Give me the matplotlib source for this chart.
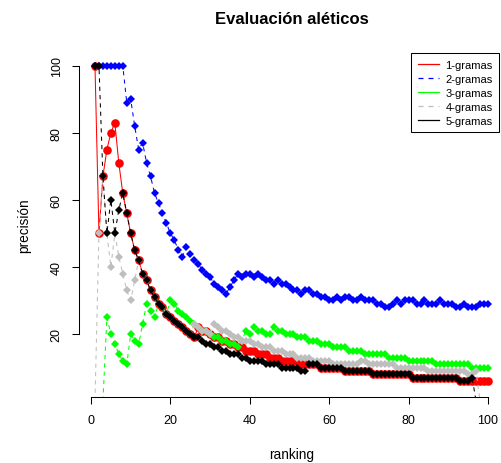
import matplotlib
matplotlib.use("Agg")
import matplotlib.pyplot as plt
from matplotlib.lines import Line2D

plt.rcParams["font.family"] = ["Liberation Sans", "DejaVu Sans"]

# precision (%) at each ranking position
ranking = list(range(1, 101))

unigramas = [100, 50, 67, 75, 80, 83, 71, 62, 56, 50,
             45, 42, 38, 36, 33, 31, 29, 28, 26, 25,
             24, 23, 22, 21, 20, 19, 22, 21, 21, 20,
             19, 19, 18, 18, 17, 17, 16, 16, 15, 15,
             15, 14, 14, 14, 13, 13, 13, 12, 12, 12,
             12, 12, 11, 11, 11, 11, 11, 10, 10, 10,
             10, 10, 10, 9, 9, 9, 9, 9, 9, 9,
             8, 8, 8, 8, 8, 8, 8, 8, 8, 8,
             7, 7, 7, 7, 7, 7, 7, 7, 7, 7,
             7, 7, 6, 6, 6, 6, 6, 6, 6, 6]

bigramas = [100, 100, 100, 100, 100, 100, 100, 100, 89, 90,
            82, 75, 77, 71, 67, 62, 59, 56, 53, 50,
            48, 45, 43, 46, 44, 42, 41, 39, 38, 37,
            35, 34, 33, 32, 34, 36, 38, 37, 38, 38,
            37, 38, 37, 36, 36, 35, 36, 35, 35, 34,
            33, 33, 32, 33, 33, 32, 32, 31, 31, 30,
            30, 31, 30, 31, 31, 30, 30, 31, 30, 30,
            30, 29, 29, 28, 28, 29, 30, 29, 30, 30,
            30, 29, 29, 30, 29, 29, 29, 30, 29, 29,
            29, 28, 28, 29, 28, 28, 28, 29, 29, 29]

trigramas = [0, 0, 0, 25, 20, 17, 14, 12, 11, 20,
             18, 17, 23, 29, 27, 25, 29, 28, 26, 30,
             29, 27, 26, 25, 24, 23, 22, 21, 21, 20,
             19, 19, 18, 18, 17, 17, 16, 18, 21, 20,
             22, 21, 21, 20, 20, 22, 21, 21, 20, 20,
             20, 19, 19, 19, 18, 18, 18, 17, 17, 17,
             16, 16, 16, 16, 15, 15, 15, 15, 14, 14,
             14, 14, 14, 14, 13, 13, 13, 13, 13, 12,
             12, 12, 12, 12, 12, 12, 11, 11, 11, 11,
             11, 11, 11, 11, 11, 10, 10, 10, 10, 10]

tetragramas = [0, 50, 67, 50, 40, 50, 43, 38, 33, 30,
               36, 42, 38, 36, 33, 31, 29, 28, 26, 25,
               24, 23, 22, 21, 20, 23, 22, 21, 21, 20,
               23, 22, 21, 21, 20, 19, 19, 18, 18, 18,
               17, 17, 16, 16, 16, 15, 15, 15, 14, 14,
               14, 13, 13, 13, 13, 12, 12, 12, 12, 12,
               11, 11, 11, 11, 11, 11, 11, 12, 12, 11,
               11, 11, 11, 11, 11, 11, 10, 10, 10, 10,
               10, 10, 10, 10, 9, 9, 9, 9, 9, 9,
               9, 9, 9, 9, 8, 8, 9, 0, 0, 0]

pentagramas = [100, 100, 67, 50, 60, 50, 57, 62, 56, 50,
               45, 42, 38, 36, 33, 31, 29, 28, 26, 25,
               24, 23, 22, 21, 20, 19, 19, 18, 17, 17,
               16, 16, 15, 15, 14, 14, 14, 13, 13, 12,
               12, 12, 12, 11, 11, 11, 11, 10, 10, 10,
               10, 10, 9, 9, 11, 11, 11, 10, 10, 10,
               10, 10, 10, 9, 9, 9, 9, 9, 9, 9,
               8, 8, 8, 8, 8, 8, 8, 8, 8, 8,
               7, 7, 7, 7, 7, 7, 7, 7, 7, 7,
               7, 7, 6, 6, 6, 7, 0, 0, 0, 0]

labels = ["1-gramas", "2-gramas", "3-gramas", "4-gramas", "5-gramas"]
values = [unigramas, bigramas, trigramas, tetragramas, pentagramas]
colors = ["#FF0000", "#0000FF", "#00FF00", "#BEBEBE", "#000000"]
markers = ["o", "D", "D", "D", "D"]
msizes = [6.2, 3.9, 3.9, 3.9, 3.9]
plot_ls = ["-", (0, (4, 4)), (0, (4, 4)), (0, (4, 4)), (0, (4, 4))]
legend_ls = ["-", (0, (4, 4)), "-", (0, (4, 4)), "-"]

fig = plt.figure(figsize=(5.02, 4.64), dpi=100)
ax = fig.add_axes([0.1579, 0.142, 0.8455, 0.7418])

for vals, c, m, ms, ls in zip(values, colors, markers, msizes, plot_ls):
    ax.plot(ranking, vals, color=c, linestyle=ls, linewidth=0.75,
            marker=m, markersize=ms, markeredgewidth=0)

ax.set_xlim(-2.96, 103.96)
ax.set_ylim(1.2, 103.8)
ax.set_xticks([0, 20, 40, 60, 80, 100])
ax.set_yticks([20, 40, 60, 80, 100])
for side in ["top", "right"]:
    ax.spines[side].set_visible(False)
ax.spines["left"].set_bounds(20, 100)
ax.spines["bottom"].set_bounds(0, 100)
for side in ["left", "bottom"]:
    ax.spines[side].set_linewidth(0.75)
ax.tick_params(length=5, width=0.75, labelsize=9, pad=7)
plt.setp(ax.get_yticklabels(), rotation=90, va="center")

handles = [Line2D([], [], color=c, linestyle=ls, linewidth=0.9)
           for c, ls in zip(colors, legend_ls)]
leg = ax.legend(handles, labels, loc="upper right",
                bbox_to_anchor=(499.3 / 502, 1 - 54 / 464),
                bbox_transform=fig.transFigure, fontsize=8,
                fancybox=False, edgecolor="black", framealpha=1,
                borderaxespad=0, handlelength=1.9, handletextpad=0.6,
                labelspacing=0.36, borderpad=0.6)
leg.get_frame().set_linewidth(0.75)

cx = 0.5807
fig.text(cx, 1 - 20 / 464, "Evaluación aléticos", ha="center", va="center",
         fontsize=12, fontweight="bold")
fig.text(cx, 1 - 455 / 464, "ranking", ha="center", va="center",
         fontsize=9.8)
fig.text(24 / 502, 0.513, "precisión", ha="center", va="center",
         rotation=90, fontsize=9.8)

fig.savefig("out.png", dpi=100)
